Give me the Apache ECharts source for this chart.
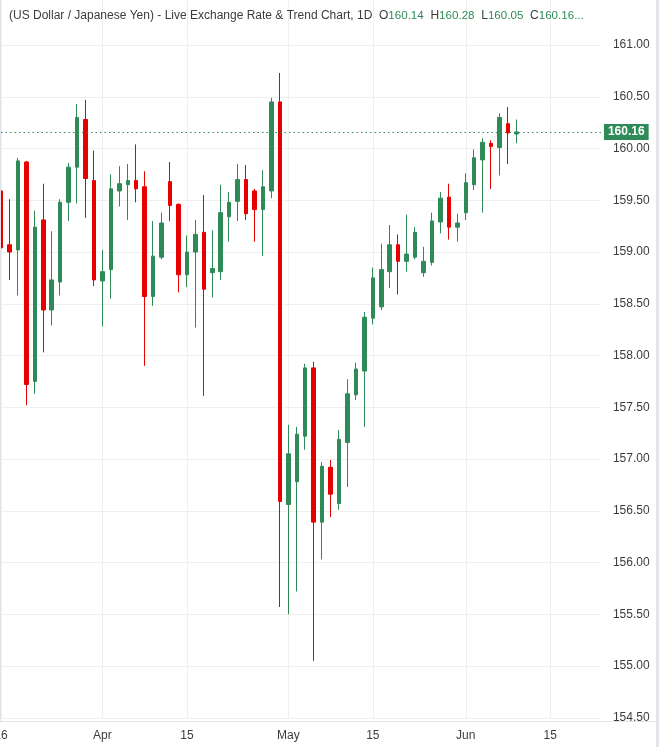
<!DOCTYPE html>
<html>
<head>
<meta charset="utf-8">
<script src="https://cdn.jsdelivr.net/npm/echarts@6/dist/echarts.min.js"></script>
<style>
html,body{margin:0;padding:0;background:#fff;}
#chart{width:659px;height:747px;}
</style>
</head>
<body>
<div id="chart"></div>
<script>
// Trading days (category axis), including empty future days on the right
const dates = [
  '2026-03-16','2026-03-17','2026-03-18','2026-03-19','2026-03-20',
  '2026-03-23','2026-03-24','2026-03-25','2026-03-26','2026-03-27',
  '2026-03-30','2026-03-31',
  '2026-04-01','2026-04-02','2026-04-03',
  '2026-04-06','2026-04-07','2026-04-08','2026-04-09','2026-04-10',
  '2026-04-13','2026-04-14','2026-04-15','2026-04-16','2026-04-17',
  '2026-04-20','2026-04-21','2026-04-22','2026-04-23','2026-04-24',
  '2026-04-27','2026-04-28','2026-04-29','2026-04-30',
  '2026-05-01',
  '2026-05-04','2026-05-05','2026-05-06','2026-05-07','2026-05-08',
  '2026-05-11','2026-05-12','2026-05-13','2026-05-14','2026-05-15',
  '2026-05-18','2026-05-19','2026-05-20','2026-05-21','2026-05-22',
  '2026-05-25','2026-05-26','2026-05-27','2026-05-28','2026-05-29',
  '2026-06-01','2026-06-02','2026-06-03','2026-06-04','2026-06-05',
  '2026-06-08','2026-06-09','2026-06-10','2026-06-11','2026-06-12',
  '2026-06-15','2026-06-16','2026-06-17','2026-06-18','2026-06-19',
  '2026-06-22','2026-06-23'
];

const openVals = [
  159.59,159.07,159.02,159.87,157.75,159.31,158.44,158.71,159.48,159.82,
  160.28,159.69,158.72,158.83,159.59,159.65,159.69,159.63,158.57,158.95,
  159.68,159.46,158.78,159.00,159.19,158.80,158.81,159.34,159.49,159.70,
  159.59,159.41,159.59,160.45,156.56,156.78,157.22,157.88,156.39,156.92,
  156.57,157.16,157.62,157.85,158.36,158.47,158.81,159.07,158.91,158.95,
  158.80,158.90,159.29,159.53,159.24,159.38,159.65,159.89,160.05,160.01,
  160.24,160.14
];
const highVals = [
  159.76,159.51,159.91,159.88,159.40,159.66,159.20,159.51,159.86,160.43,
  160.47,159.98,159.02,159.75,159.83,159.85,160.04,159.78,159.30,159.38,
  159.87,159.47,159.16,159.31,159.55,159.21,159.65,159.58,159.85,159.84,
  159.61,159.79,160.49,160.73,157.33,157.31,157.92,157.94,156.97,156.99,
  157.28,157.77,157.93,158.42,158.85,159.08,159.26,159.17,159.36,159.24,
  159.05,159.38,159.58,159.66,159.37,159.76,159.99,160.10,160.08,160.34,
  160.40,160.28
];
const lowVals = [
  158.86,158.73,158.58,157.52,157.63,158.03,158.29,158.58,159.30,159.47,
  159.33,158.67,158.28,158.55,159.44,159.31,159.48,157.90,158.48,158.93,
  159.30,158.61,158.66,158.27,157.61,158.56,158.73,159.10,159.30,159.31,
  159.10,158.96,159.52,155.57,155.50,155.72,157.09,155.05,156.03,156.44,
  156.51,156.73,157.57,157.31,158.30,158.44,158.65,158.59,158.81,158.93,
  158.76,158.87,159.18,159.12,159.10,159.31,159.60,159.38,159.61,159.74,
  159.85,160.05
];
const closeVals = [
  159.04,159.00,159.88,157.72,159.24,158.44,158.73,159.48,159.82,160.30,
  159.71,158.73,158.81,159.61,159.66,159.69,159.61,158.57,158.96,159.28,
  159.45,158.78,159.00,159.17,158.64,158.84,159.38,159.48,159.70,159.37,
  159.41,159.63,160.45,156.59,157.05,157.24,157.88,156.39,156.93,156.66,
  157.19,157.63,157.87,158.37,158.75,158.83,159.07,158.91,158.98,159.19,
  158.91,159.30,159.52,159.24,159.28,159.67,159.91,160.06,160.02,160.30,
  160.15,160.16
];

// x-axis tick labels
const tickDates = ['2026-03-16','2026-04-01','2026-04-15','2026-05-01','2026-05-15','2026-06-01','2026-06-15'];
const tickTexts = ['16','Apr','15','May','15','Jun','15'];

// header values (last bar)
const lastOpen = openVals[openVals.length-1];
const lastHigh = highVals[highVals.length-1];
const lastLow = lowVals[lowVals.length-1];
const lastClose = closeVals[closeVals.length-1];

const UP = '#2e8a57';
const DOWN = '#e60000';
const GRID = '#efefef';
const TXT = '#3c3c3c';

const candleData = openVals.map((o,i)=>[o, closeVals[i], lowVals[i], highVals[i]]);
const isTick = (idx)=> tickDates.indexOf(dates[idx]) >= 0;
const tickLabel = (v)=> { const k = tickDates.indexOf(v); return k>=0 ? tickTexts[k] : ''; };

const chart = echarts.init(document.getElementById('chart'), null, {renderer:'canvas'});
chart.setOption({
  animation:false,
  backgroundColor:'#ffffff',
  title:{
    left:9, top:10, padding:0,
    text:'{t|(US Dollar / Japanese Yen) - Live Exchange Rate & Trend Chart, 1D}  {t|O}{v|'+lastOpen.toFixed(2)+'}  {t|H}{v|'+lastHigh.toFixed(2)+'}  {t|L}{v|'+lastLow.toFixed(2)+'}  {t|C}{v|'+lastClose.toFixed(2)+'...}',
    textStyle:{
      fontFamily:'Liberation Sans', fontSize:12, fontWeight:'normal', color:TXT,
      rich:{
        t:{fontFamily:'Liberation Sans', fontSize:12, color:TXT},
        v:{fontFamily:'Liberation Sans', fontSize:11.6, color:UP}
      }
    }
  },
  grid:{left:1, right:58.05, top:-6.75, bottom:29.25, containLabel:false, outerBoundsMode:'none'},
  xAxis:[{
    type:'category', data:dates, boundaryGap:false, position:'bottom', z:0,
    axisLine:{show:false}, axisTick:{show:false},
    axisLabel:{show:false},
    splitLine:{show:true, interval:(i)=>isTick(i), lineStyle:{color:GRID, width:1}}
  },{
    type:'category', data:dates, boundaryGap:false, position:'bottom', z:5,
    axisLine:{show:false}, axisTick:{show:false},
    splitLine:{show:false},
    axisLabel:{show:true, interval:(i)=>isTick(i), formatter:(v)=>tickLabel(v),
      color:TXT, fontSize:12, fontFamily:'Liberation Sans', margin:12}
  }],
  yAxis:{
    type:'value', position:'right', min:154.5, max:161.5, interval:0.5, scale:true,
    axisLine:{show:false}, axisTick:{show:false},
    axisLabel:{formatter:(v)=>v.toFixed(2), color:TXT, fontSize:12, fontFamily:'Liberation Sans', margin:12, showMaxLabel:false},
    splitLine:{show:true, lineStyle:{color:GRID, width:1}}
  },
  graphic:[
    {type:'rect', z:3, shape:{x:0, y:721, width:659, height:26}, style:{fill:'#ffffff'}},
    {type:'line', z:4, shape:{x1:0, y1:721.5, x2:659, y2:721.5}, style:{stroke:'#e0e3eb', lineWidth:1}},
    {type:'line', z:4, shape:{x1:0.5, y1:0, x2:0.5, y2:721}, style:{stroke:'#e0e3eb', lineWidth:1}},
    {type:'rect', z:4, shape:{x:656, y:0, width:3, height:747}, style:{fill:'#e4e5ea'}}
  ],
  series:[{
    type:'candlestick',
    xAxisIndex:0,
    data:candleData,
    barWidth:4,
    clip:false,
    itemStyle:{color:UP, color0:DOWN, borderColor:UP, borderColor0:DOWN, borderWidth:1},
    markLine:{
      silent:true, symbol:['none','none'], animation:false,
      lineStyle:{type:[1.5,3], color:UP, width:1},
      label:{show:true, position:'end', distance:3, formatter:(p)=>p.value.toFixed(2),
        backgroundColor:UP, color:'#ffffff', padding:[2,4,2,4], fontSize:12, fontWeight:'bold', fontFamily:'Liberation Sans', lineHeight:12},
      emphasis:{disabled:true},
      data:[{yAxis:lastClose}]
    }
  }]
});
</script>
</body>
</html>
